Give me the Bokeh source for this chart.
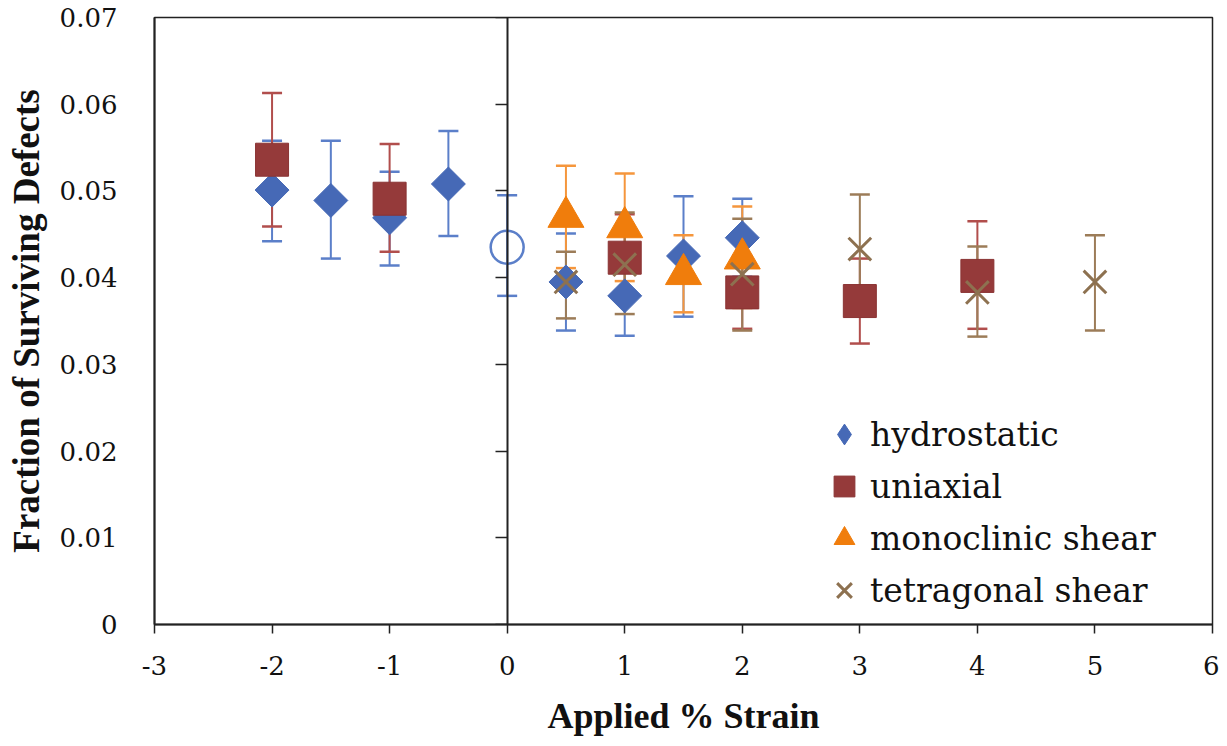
import numpy as np
from bokeh.plotting import figure
from bokeh.models import (ColumnDataSource, Whisker, TeeHead, LinearAxis,
                          FixedTicker, Range1d, Legend, LegendItem)
from bokeh.embed import file_html
from bokeh.resources import INLINE

# ---------------- data ----------------
x_ticks = [-3, -2, -1, 0, 1, 2, 3, 4, 5, 6]
x_tick_labels = ["-3", "-2", "-1", "0", "1", "2", "3", "4", "5", "6"]
y_ticks = [0.0, 0.01, 0.02, 0.03, 0.04, 0.05, 0.06, 0.07]
y_tick_labels = ["0", "0.01", "0.02", "0.03", "0.04", "0.05", "0.06", "0.07"]

hydro_x = [-2, -1.5, -1, -0.5, 0.5, 1, 1.5, 2]
hydro_y = [0.0501, 0.0489, 0.0469, 0.0508, 0.0395, 0.0379, 0.0425, 0.0446]
hydro_hi = [0.0558, 0.0558, 0.0522, 0.0569, 0.0451, 0.0425, 0.0494, 0.0491]
hydro_lo = [0.0442, 0.0422, 0.0414, 0.0448, 0.0339, 0.0333, 0.0355, 0.0401]

zero_x = [0]
zero_y = [0.0435]
zero_hi = [0.0495]
zero_lo = [0.0379]

uni_x = [-2, -1, 1, 2, 3, 4]
uni_y = [0.0536, 0.0491, 0.0423, 0.0383, 0.0373, 0.0402]
uni_hi = [0.0613, 0.0554, 0.0473, 0.0425, 0.0422, 0.0465]
uni_lo = [0.0459, 0.0430, 0.0373, 0.0341, 0.0324, 0.0341]

mono_x = [0.5, 1, 1.5, 2]
mono_y = [0.0470, 0.0458, 0.0404, 0.0422]
mono_hi = [0.0529, 0.0520, 0.0449, 0.0482]
mono_lo = [0.0411, 0.0396, 0.0360, 0.0365]

tet_x = [0.5, 1, 2, 3, 4, 5]
tet_y = [0.0395, 0.0415, 0.0404, 0.0433, 0.0383, 0.0395]
tet_hi = [0.0430, 0.0475, 0.0468, 0.0496, 0.0436, 0.0449]
tet_lo = [0.0353, 0.0358, 0.0339, 0.0370, 0.0332, 0.0339]

series_labels = ["hydrostatic", "uniaxial", "monoclinic shear", "tetragonal shear"]

# ---------------- styles ----------------
BLUE, BLUE_E = "#4669b6", "#5b7fc9"
RED, RED_E = "#953a3a", "#b14e4c"
ORANGE, ORANGE_E = "#f07d0c", "#f5963c"
BROWN, BROWN_E = "#8d7150", "#9c7c58"
TICK_FONT = "DejaVu Serif"
TITLE_FONT = "Liberation Serif"
INK = "#111111"

p = figure(width=1219, height=738, x_range=Range1d(-3, 6), y_range=Range1d(0, 0.07),
           output_backend="svg", toolbar_location=None,
           min_border_left=154, min_border_right=7, min_border_top=17, min_border_bottom=111)
p.grid.visible = False
p.outline_line_color = "#222222"
p.outline_line_width = 1.5
p.background_fill_color = "white"
p.border_fill_color = "white"

# x axis
xa = p.xaxis[0]
xa.ticker = FixedTicker(ticks=x_ticks)
xa.major_label_overrides = {float(t): l for t, l in zip(x_ticks, x_tick_labels)}
xa.major_tick_out = 9
xa.major_tick_in = 0
xa.minor_tick_line_color = None
xa.axis_line_width = 2
xa.axis_line_color = "#222222"
xa.major_tick_line_color = "#222222"
xa.major_tick_line_width = 1.5
xa.major_label_standoff = 22
xa.major_label_text_font = TICK_FONT
xa.major_label_text_font_size = "26px"
xa.major_label_text_color = INK
xa.axis_label = "Applied % Strain"
xa.axis_label_text_font = TITLE_FONT
xa.axis_label_text_font_style = "bold"
xa.axis_label_text_font_size = "36px"
xa.axis_label_text_color = INK
xa.axis_label_standoff = 18

# y axis (labels at the left edge)
ya = p.yaxis[0]
ya.ticker = FixedTicker(ticks=y_ticks)
ya.major_label_overrides = {float(t): l for t, l in zip(y_ticks, y_tick_labels)}
ya.major_tick_out = 0
ya.major_tick_in = 0
ya.minor_tick_line_color = None
ya.axis_line_width = 2
ya.axis_line_color = "#222222"
ya.major_label_standoff = 37
ya.major_label_text_font = TICK_FONT
ya.major_label_text_font_size = "26px"
ya.major_label_text_color = INK
ya.axis_label = "Fraction of Surviving Defects"
ya.axis_label_text_font = TITLE_FONT
ya.axis_label_text_font_style = "bold"
ya.axis_label_text_font_size = "37px"
ya.axis_label_text_color = INK
ya.axis_label_standoff = 10

# vertical axis crossing at x = 0 (ticks only, no labels)
zax = LinearAxis(fixed_location=0, ticker=FixedTicker(ticks=y_ticks))
zax.major_label_overrides = {float(t): "" for t in y_ticks}
zax.major_tick_in = 12
zax.major_tick_out = 0
zax.minor_tick_line_color = None
zax.axis_line_width = 2
zax.axis_line_color = "#222222"
zax.major_tick_line_color = "#222222"
zax.major_tick_line_width = 1.5
zax.major_label_standoff = 0
p.add_layout(zax, "right")


def add_err(xs, lo, hi, color):
    src = ColumnDataSource(dict(x=xs, lo=lo, hi=hi))
    w = Whisker(base="x", lower="lo", upper="hi", source=src,
                line_color=color, line_width=2,
                upper_head=TeeHead(size=20, line_color=color, line_width=2.5),
                lower_head=TeeHead(size=20, line_color=color, line_width=2.5),
                level="underlay")
    p.add_layout(w)


add_err(hydro_x, hydro_lo, hydro_hi, BLUE_E)
add_err(zero_x, zero_lo, zero_hi, BLUE_E)
add_err(uni_x, uni_lo, uni_hi, RED_E)
add_err(mono_x, mono_lo, mono_hi, ORANGE_E)
add_err(tet_x, tet_lo, tet_hi, BROWN_E)

# legend key for the diamond (legend keys are drawn unrotated): hidden twin renderer
r_hydro_key = p.scatter(hydro_x, hydro_y, marker="diamond", size=24,
                        fill_color=BLUE, line_color=BLUE, visible=False)
r_hydro = p.scatter(hydro_x, hydro_y, marker="square", angle=np.pi / 4, size=24,
                    fill_color=BLUE, line_color=BLUE)
p.scatter(zero_x, zero_y, marker="circle", size=33, fill_color="white", fill_alpha=0.0,
          line_color=BLUE_E, line_width=2.5)
r_uni = p.scatter(uni_x, uni_y, marker="square", size=33,
                  fill_color=RED, line_color="#8a3333")
r_mono = p.scatter(mono_x, mono_y, marker="triangle", size=36,
                   fill_color=ORANGE, line_color=ORANGE)
r_tet = p.scatter(tet_x, tet_y, marker="x", size=32, line_color=BROWN, line_width=3)

legend = Legend(items=[
    LegendItem(label=series_labels[0], renderers=[r_hydro_key]),
    LegendItem(label=series_labels[1], renderers=[r_uni]),
    LegendItem(label=series_labels[2], renderers=[r_mono]),
    LegendItem(label=series_labels[3], renderers=[r_tet]),
])
legend.location = (664, 8)
legend.border_line_color = None
legend.background_fill_alpha = 0.0
legend.inactive_fill_alpha = 0.0
legend.padding = 0
legend.margin = 0
legend.spacing = 0
legend.glyph_width = 52
legend.glyph_height = 52
legend.label_height = 52
legend.label_standoff = 0
legend.label_text_font = TICK_FONT
legend.label_text_font_size = "33px"
legend.label_text_color = INK
p.add_layout(legend)

open("out.html", "w").write(file_html(p, INLINE))
